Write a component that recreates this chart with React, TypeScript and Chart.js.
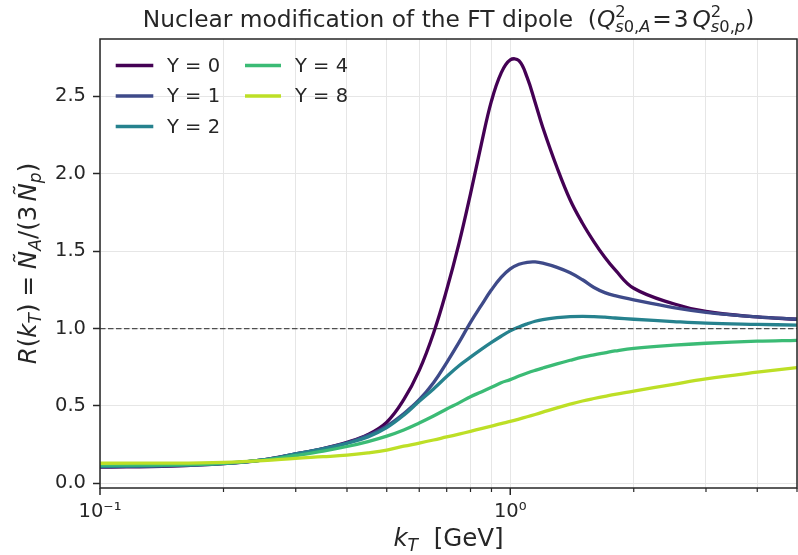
import React, { useEffect, useRef } from 'react';
import { Chart, registerables } from 'chart.js';

Chart.register(...registerables);

// ---------------- data ----------------
const kT = [0.1, 0.15, 0.2, 0.25, 0.3, 0.35, 0.4, 0.45, 0.5, 0.55, 0.6, 0.65, 0.7, 0.75, 0.8, 0.85, 0.9, 0.95, 1.0, 1.05, 1.1, 1.15, 1.2, 1.3, 1.4, 1.5, 1.6, 1.7, 1.8, 2.0, 2.5, 3.0, 4.0, 5.0];

const R_Y0 = [0.105, 0.112, 0.127, 0.152, 0.19, 0.225, 0.265, 0.315, 0.395, 0.54, 0.73, 0.97, 1.25, 1.55, 1.87, 2.19, 2.47, 2.65, 2.735, 2.73, 2.62, 2.46, 2.3, 2.04, 1.83, 1.68, 1.56, 1.46, 1.38, 1.26, 1.16, 1.11, 1.075, 1.06];
const R_Y1 = [0.107, 0.114, 0.128, 0.152, 0.19, 0.225, 0.262, 0.31, 0.37, 0.45, 0.54, 0.65, 0.78, 0.91, 1.04, 1.15, 1.25, 1.33, 1.385, 1.415, 1.428, 1.43, 1.422, 1.395, 1.36, 1.315, 1.265, 1.232, 1.212, 1.185, 1.135, 1.105, 1.075, 1.06];
const R_Y2 = [0.11, 0.116, 0.129, 0.152, 0.19, 0.222, 0.258, 0.3, 0.36, 0.44, 0.53, 0.61, 0.69, 0.76, 0.815, 0.865, 0.91, 0.95, 0.985, 1.01, 1.03, 1.047, 1.058, 1.07, 1.077, 1.079, 1.077, 1.073, 1.068, 1.06, 1.045, 1.035, 1.027, 1.022];
const R_Y4 = [0.118, 0.12, 0.13, 0.15, 0.18, 0.208, 0.238, 0.27, 0.305, 0.345, 0.39, 0.435, 0.48, 0.52, 0.56, 0.59, 0.62, 0.65, 0.67, 0.693, 0.713, 0.73, 0.745, 0.772, 0.795, 0.815, 0.83, 0.843, 0.855, 0.872, 0.893, 0.905, 0.918, 0.924];
const R_Y8 = [0.13, 0.131, 0.136, 0.147, 0.162, 0.172, 0.182, 0.197, 0.215, 0.24, 0.26, 0.28, 0.3, 0.318, 0.336, 0.354, 0.37, 0.386, 0.4, 0.415, 0.43, 0.445, 0.46, 0.488, 0.512, 0.532, 0.548, 0.562, 0.575, 0.595, 0.64, 0.675, 0.718, 0.748];

const seriesValues = [R_Y0, R_Y1, R_Y2, R_Y4, R_Y8];
const seriesLabels = ['Y = 0', 'Y = 1', 'Y = 2', 'Y = 4', 'Y = 8'];
const seriesColors = ['#440154', '#3e4a89', '#26828e', '#3bbb75', '#bddf26'];

const refLineX = [0.1, 5.0];
const refLineY = [1.0, 1.0];

const yTickValues = [0, 0.5, 1.0, 1.5, 2.0, 2.5];
const xMajorTicks = [0.1, 1];
const xMinorTicks = [0.2, 0.3, 0.4, 0.5, 0.6, 0.7, 0.8, 0.9, 2, 3, 4, 5];
const xMajorLabels = ['10\u207B\u00B9', '10\u2070'];

// ---------------- style ----------------
const FAMILY = '"DejaVu Sans"';
const TXT = '#262626';
const AXIS = '#262626';
const GRID = '#e6e6e6';
const TICK_FONT = 19.5;
const TITLE_FONT = 23.3;
const LABEL_FONT = 24.5;
const LEGEND_FONT = 19.5;

type Run = { t?: string; it?: boolean; gap?: number; sup?: Run[]; sub?: Run[] };

function fontFor(size: number, it?: boolean) {
  return `${it ? 'italic ' : ''}${size}px ${FAMILY}`;
}
function runsWidth(ctx: CanvasRenderingContext2D, runs: Run[], base: number): number {
  let w = 0;
  for (const r of runs) w += runWidth(ctx, r, base);
  return w;
}
function runWidth(ctx: CanvasRenderingContext2D, r: Run, base: number): number {
  if (r.gap !== undefined) return r.gap * base;
  if (r.sup || r.sub) {
    return Math.max(r.sup ? runsWidth(ctx, r.sup, base * 0.7) : 0, r.sub ? runsWidth(ctx, r.sub, base * 0.7) : 0);
  }
  ctx.font = fontFor(base, r.it);
  return ctx.measureText(r.t || '').width;
}
function drawRuns(ctx: CanvasRenderingContext2D, runs: Run[], x: number, y: number, base: number) {
  for (const r of runs) {
    if (r.gap === undefined) {
      if (r.sup || r.sub) {
        if (r.sup) drawRuns(ctx, r.sup, x, y - base * 0.42, base * 0.7);
        if (r.sub) drawRuns(ctx, r.sub, x, y + base * 0.22, base * 0.7);
      } else {
        ctx.font = fontFor(base, r.it);
        ctx.fillText(r.t || '', x, y);
      }
    }
    x += runWidth(ctx, r, base);
  }
}

const titleRuns: Run[] = [
  { t: 'Nuclear modification of the FT dipole  (' },
  { t: 'Q', it: true },
  { sup: [{ t: '2' }], sub: [{ t: 's', it: true }, { t: '0,' }, { t: 'A', it: true }] },
  { gap: 0.08 },
  { t: '=' },
  { gap: 0.08 },
  { t: '3' },
  { gap: 0.17 },
  { t: 'Q', it: true },
  { sup: [{ t: '2' }], sub: [{ t: 's', it: true }, { t: '0,' }, { t: 'p', it: true }] },
  { t: ')' },
];
const yLabelRuns: Run[] = [
  { t: 'R', it: true },
  { t: '(' },
  { t: 'k', it: true },
  { sub: [{ t: 'T', it: true }] },
  { t: ')' },
  { gap: 0.28 },
  { t: '=' },
  { gap: 0.28 },
  { t: '\u00D1', it: true },
  { sub: [{ t: 'A', it: true }] },
  { t: '/(' },
  { t: '3' },
  { gap: 0.17 },
  { t: '\u00D1', it: true },
  { sub: [{ t: 'p', it: true }] },
  { t: ')' },
];
const xLabelRuns: Run[] = [
  { t: 'k', it: true },
  { sub: [{ t: 'T', it: true }] },
  { t: '  [GeV]' },
];

const decorPlugin = {
  id: 'decor',
  afterDraw(chart: any) {
    const ctx: CanvasRenderingContext2D = chart.ctx;
    const a = chart.chartArea;
    const xs = chart.scales.x;
    ctx.save();
    ctx.fillStyle = TXT;
    ctx.textBaseline = 'alphabetic';
    ctx.textAlign = 'left';

    // frame
    ctx.strokeStyle = AXIS;
    ctx.lineWidth = 1.5;
    ctx.strokeRect(a.left, a.top, a.right - a.left, a.bottom - a.top);

    // x tick marks
    const drawTick = (v: number, len: number, w: number) => {
      const px = xs.getPixelForValue(v);
      ctx.lineWidth = w;
      ctx.beginPath();
      ctx.moveTo(px, a.bottom);
      ctx.lineTo(px, a.bottom + len);
      ctx.stroke();
    };
    xMajorTicks.forEach((v) => drawTick(v, 7, 1.5));
    xMinorTicks.forEach((v) => drawTick(v, 4, 1.2));

    // title
    const cx = (a.left + a.right) / 2;
    const tw = runsWidth(ctx, titleRuns, TITLE_FONT);
    drawRuns(ctx, titleRuns, cx - tw / 2, 27, TITLE_FONT);

    // x label
    const xw = runsWidth(ctx, xLabelRuns, LABEL_FONT);
    drawRuns(ctx, xLabelRuns, cx - xw / 2, 546, LABEL_FONT);

    // y label
    const cy = (a.top + a.bottom) / 2;
    const yw = runsWidth(ctx, yLabelRuns, LABEL_FONT);
    ctx.translate(36, cy);
    ctx.rotate(-Math.PI / 2);
    drawRuns(ctx, yLabelRuns, -yw / 2, 0, LABEL_FONT);
    ctx.restore();

    // legend
    ctx.save();
    ctx.font = fontFor(LEGEND_FONT);
    ctx.textBaseline = 'middle';
    ctx.fillStyle = TXT;
    const cols = [
      { l0: 15.7, l1: 53.3, tx: 67 },
      { l0: 145, l1: 181, tx: 195 },
    ];
    const rows = [26.5, 57, 87.5];
    seriesLabels.forEach((lab, i) => {
      const c = cols[i < 3 ? 0 : 1];
      const ry = a.top + rows[i % 3];
      ctx.strokeStyle = seriesColors[i];
      ctx.lineWidth = 3.5;
      ctx.beginPath();
      ctx.moveTo(a.left + c.l0, ry);
      ctx.lineTo(a.left + c.l1, ry);
      ctx.stroke();
      ctx.fillText(lab, a.left + c.tx, ry + 1);
    });
    ctx.restore();
  },
};

export default function App() {
  const ref = useRef<HTMLCanvasElement | null>(null);
  useEffect(() => {
    if (!ref.current) return;
    const datasets: any[] = seriesValues.map((vals, i) => ({
      label: seriesLabels[i],
      data: kT.map((x, j) => ({ x, y: vals[j] })),
      borderColor: seriesColors[i],
      backgroundColor: seriesColors[i],
      borderWidth: 3.3,
      pointRadius: 0,
      fill: false,
      tension: 0.4,
      order: -i,
    }));
    datasets.push({
      label: 'ref',
      data: refLineX.map((x, j) => ({ x, y: refLineY[j] })),
      borderColor: 'rgba(50,50,50,0.85)',
      borderWidth: 1.3,
      borderDash: [5.5, 2.5],
      pointRadius: 0,
      fill: false,
      order: -10,
    });
    const allX = [...xMajorTicks, ...xMinorTicks].sort((p, q) => p - q);
    const chart = new Chart(ref.current, {
      type: 'line',
      data: { datasets },
      options: {
        animation: false,
        responsive: false,
        events: [],
        layout: { padding: { top: 39, right: 1, left: 0, bottom: 0 } },
        plugins: { legend: { display: false }, tooltip: { enabled: false }, title: { display: false } },
        scales: {
          x: {
            type: 'logarithmic',
            min: 0.1,
            max: 5,
            afterBuildTicks: (s: any) => {
              s.ticks = allX.map((v) => ({ value: v }));
            },
            afterFit: (s: any) => {
              s.height = 67;
            },
            grid: { color: GRID, lineWidth: 1, drawTicks: false },
            border: { display: false },
            ticks: {
              autoSkip: false,
              maxRotation: 0,
              minRotation: 0,
              padding: 0,
              color: TXT,
              font: { family: 'DejaVu Sans', size: TICK_FONT, lineHeight: 2.43 },
              callback: (v: any) => {
                const idx = xMajorTicks.findIndex((m) => Math.abs(m - Number(v)) < 1e-9);
                return idx >= 0 ? xMajorLabels[idx] : '';
              },
            },
          },
          y: {
            type: 'linear',
            min: -0.03,
            max: 2.87,
            afterBuildTicks: (s: any) => {
              s.ticks = yTickValues.map((v) => ({ value: v }));
            },
            afterFit: (s: any) => {
              s.width = 100;
            },
            grid: { color: GRID, lineWidth: 1, drawTicks: true, tickLength: 7, tickColor: AXIS, tickWidth: 1.5 },
            border: { display: false },
            ticks: {
              padding: 7,
              color: TXT,
              font: { family: 'DejaVu Sans', size: TICK_FONT },
              callback: (v: any) => Number(v).toFixed(1),
            },
          },
        },
      } as any,
      plugins: [decorPlugin],
    });
    return () => chart.destroy();
  }, []);
  return (
    <div style={{ position: 'absolute', left: 0, top: 0, width: 798, height: 555, background: '#fff' }}>
      <canvas ref={ref} width={798} height={555} style={{ display: 'block', width: 798, height: 555 }} />
    </div>
  );
}
